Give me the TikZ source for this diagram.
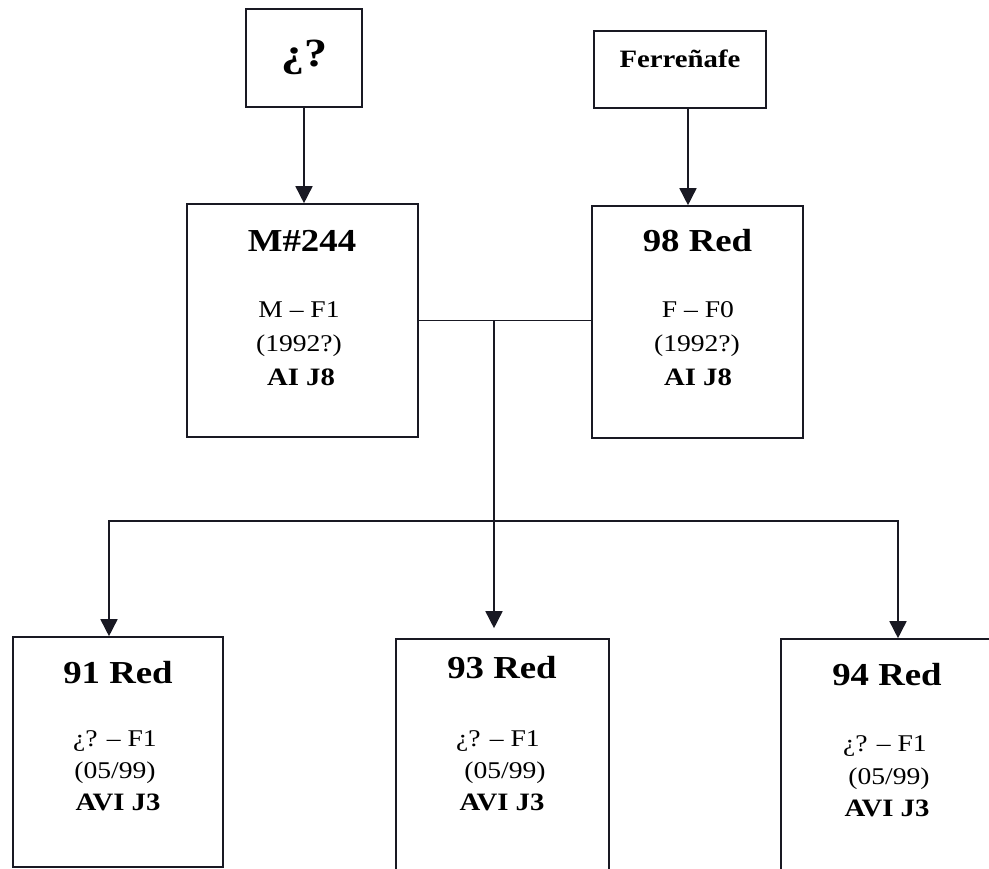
\documentclass[tikz,border=0pt]{standalone}
\usepackage{fontspec}
\setmainfont[FakeStretch=1.15]{Liberation Serif}
\usetikzlibrary{arrows.meta}
\begin{document}
\begin{tikzpicture}[x=1pt,y=-1pt,
  ink/.style={color={rgb,255:red,25;green,25;blue,35}},
  box/.style={ink, draw, line width=1.6pt, rectangle, inner sep=0pt},
  link/.style={ink, line width=1.6pt},
  tip/.tip={Triangle[length=17pt,width=17pt]},
  arr/.style={link, -tip},
  ttl/.style={anchor=base, inner sep=0pt, font=\fontsize{32}{38}\selectfont\bfseries},
  ln/.style={anchor=base, inner sep=0pt, font=\fontsize{24}{29}\selectfont},
  lnb/.style={anchor=base, inner sep=0pt, font=\fontsize{25}{30}\selectfont\bfseries}]
\useasboundingbox (0,0) rectangle (989,869);
\clip (0,0) rectangle (989,869);

% parents' parents
\node[box, minimum width=116pt, minimum height=98pt] (q) at (304,58) {};
\node[anchor=base, inner sep=0pt, font=\fontsize{40}{46}\selectfont\bfseries] (qt) at (304,67) {¿?};
\node[box, minimum width=172pt, minimum height=77pt] (ferr) at (680,69.5) {};
\node[anchor=base, inner sep=0pt, font=\fontsize{25}{30}\selectfont\bfseries] (ferrt) at (680,68) {Ferreñafe};

% parents
\node[box, minimum width=231pt, minimum height=233pt] (m244) at (302.5,320.5) {};
\node[ttl] (m244t) at (302,252) {M\#244};
\node[ln]  (m244a) at (299,318) {M – F1};
\node[ln]  (m244b) at (299,352) {(1992?)};
\node[lnb] (m244c) at (301,385) {AI J8};

\node[box, minimum width=211pt, minimum height=232pt] (r98) at (697.5,322) {};
\node[ttl] (r98t) at (697.5,252) {98 Red};
\node[ln]  (r98a) at (698,318) {F – F0};
\node[ln]  (r98b) at (697,352) {(1992?)};
\node[lnb] (r98c) at (698,385) {AI J8};

% offspring
\node[box, minimum width=210pt, minimum height=230pt] (r91) at (118,752) {};
\node[ttl] (r91t) at (118,683) {91 Red};
\node[ln]  (r91a) at (115,746) {¿? – F1};
\node[ln]  (r91b) at (115,778) {(05/99)};
\node[lnb] (r91c) at (118,810) {AVI J3};

\node[box, minimum width=213pt, minimum height=246pt] (r93) at (502.5,762) {};
\node[ttl] (r93t) at (502,678) {93 Red};
\node[ln]  (r93a) at (498,746) {¿? – F1};
\node[ln]  (r93b) at (505,778) {(05/99)};
\node[lnb] (r93c) at (502,810) {AVI J3};

\node[box, minimum width=211pt, minimum height=246pt] (r94) at (886.5,762) {};
\node[ttl] (r94t) at (887,685) {94 Red};
\node[ln]  (r94a) at (885,751) {¿? – F1};
\node[ln]  (r94b) at (889,784) {(05/99)};
\node[lnb] (r94c) at (887,816) {AVI J3};

% connectors
\coordinate (fx) at (688,0);
\coordinate (split) at (494,320.5);
\coordinate (lb) at (109,521);
\coordinate (rb) at (898,521);

\draw[arr] (q.south) -- (q.south |- m244.north);
\draw[arr] (ferr.south -| fx) -- (r98.north -| fx);
\draw[link] (m244.east) -- (m244.east -| r98.west);
\draw[arr, shorten >=10pt] (split) -- (split |- r93.north);
\draw[link, tip-tip, line join=miter] (lb |- r91.north) -- (lb) -- (rb) -- (rb |- r94.north);
\end{tikzpicture}
\end{document}
